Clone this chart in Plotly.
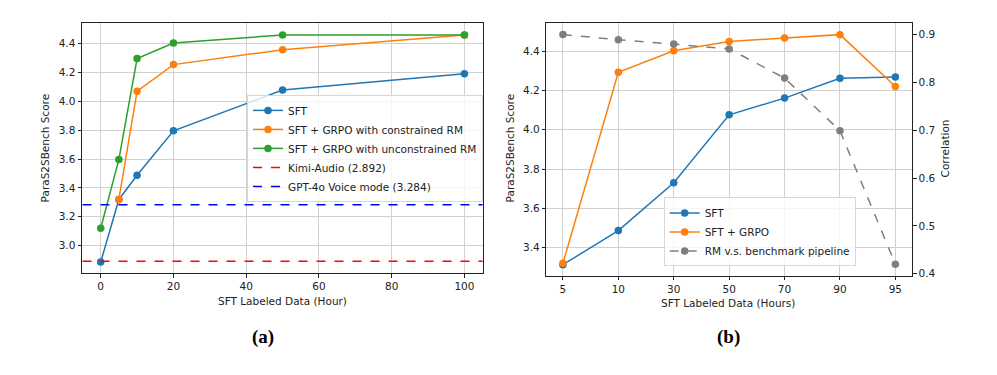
import plotly.graph_objects as go

# ---- Data: panel (a)
hours_a = [0, 5, 10, 20, 50, 100]
sft_a = [2.886, 3.32, 3.487, 3.795, 4.078, 4.19]
hours_con = [5, 10, 20, 50, 100]
grpo_con = [3.32, 4.07, 4.254, 4.357, 4.46]
grpo_uncon = [3.12, 3.597, 4.296, 4.403, 4.46, 4.46]
kimi = 2.892
gpt4o = 3.284

# ---- Data: panel (b)
hours_b = ["5", "10", "30", "50", "70", "90", "95"]
sft_b = [3.313, 3.487, 3.73, 4.076, 4.161, 4.262, 4.268]
grpo_b = [3.32, 4.292, 4.402, 4.449, 4.467, 4.484, 4.22]
corr_b = [0.90, 0.889, 0.880, 0.870, 0.809, 0.699, 0.42]

BLUE = "#1f77b4"
ORANGE = "#ff7f0e"
GREEN = "#2ca02c"
GRAY = "#7f7f7f"
FONT = "DejaVu Sans"

fig = go.Figure()

def line_trace(x, y, color, name, xa, ya, legend, dash="solid"):
    return go.Scatter(
        x=x, y=y, mode="lines+markers", name=name,
        line=dict(color=color, width=1.5, dash=dash),
        marker=dict(color=color, size=7.5),
        xaxis=xa, yaxis=ya, legend=legend,
    )

fig.add_trace(line_trace(hours_a, sft_a, BLUE, "SFT", "x", "y", "legend"))
fig.add_trace(line_trace(hours_con, grpo_con, ORANGE, "SFT + GRPO with constrained RM", "x", "y", "legend"))
fig.add_trace(line_trace(hours_a, grpo_uncon, GREEN, "SFT + GRPO with unconstrained RM", "x", "y", "legend"))
fig.add_trace(go.Scatter(x=[-5, 105], y=[kimi, kimi], mode="lines", name="Kimi-Audio (2.892)",
                         line=dict(color="red", width=1.5, dash="dash"), xaxis="x", yaxis="y", legend="legend"))
fig.add_trace(go.Scatter(x=[-5, 105], y=[gpt4o, gpt4o], mode="lines", name="GPT-4o Voice mode (3.284)",
                         line=dict(color="blue", width=1.5, dash="dash"), xaxis="x", yaxis="y", legend="legend"))

fig.add_trace(line_trace(hours_b, sft_b, BLUE, "SFT", "x2", "y2", "legend2"))
fig.add_trace(line_trace(hours_b, grpo_b, ORANGE, "SFT + GRPO", "x2", "y2", "legend2"))
fig.add_trace(line_trace(hours_b, corr_b, GRAY, "RM v.s. benchmark pipeline", "x2", "y3", "legend2", dash="dash"))

W, H = 997, 375
def fx(p): return p / W
def fy(p): return 1 - p / H

axis_common = dict(
    showline=True, linecolor="#222", linewidth=1, mirror=True,
    ticks="outside", ticklen=3.5, tickcolor="#222",
    showgrid=True, gridcolor="#d0d0d0", gridwidth=0.8, zeroline=False,
    tickfont=dict(family=FONT, size=10.5, color="#222"),
)

legend_common = dict(
    xanchor="left", yanchor="middle",
    bgcolor="rgba(255,255,255,0.8)", bordercolor="#d8d8d8", borderwidth=1,
    font=dict(family=FONT, size=10.5, color="#222"), tracegroupgap=0,
    itemwidth=30,
)

fig.update_layout(
    width=W, height=H,
    margin=dict(l=0, r=0, t=0, b=0),
    paper_bgcolor="white", plot_bgcolor="white",
    font=dict(family=FONT, size=10, color="#222"),
    xaxis=dict(domain=[fx(82), fx(483)], range=[-5.14, 105.1],
               tickvals=[0, 20, 40, 60, 80, 100], anchor="y", **axis_common),
    yaxis=dict(domain=[fy(276), fy(23)], range=[2.81, 4.544],
               tickvals=[3.0, 3.2, 3.4, 3.6, 3.8, 4.0, 4.2, 4.4], tickformat=".1f",
               anchor="x", **axis_common),
    xaxis2=dict(domain=[fx(546.3), fx(912)], range=[-0.3, 6.3], type="category",
                anchor="y2", **axis_common),
    yaxis2=dict(domain=[fy(278.7), fy(23.3)], range=[3.257, 4.543],
                tickvals=[3.4, 3.6, 3.8, 4.0, 4.2, 4.4], tickformat=".1f",
                anchor="x2", **axis_common),
    yaxis3=dict(overlaying="y2", side="right", anchor="x2", range=[0.396, 0.924],
                tickvals=[0.4, 0.5, 0.6, 0.7, 0.8, 0.9], tickformat=".1f",
                showline=True, linecolor="#222", linewidth=1,
                ticks="outside", ticklen=3.5, tickcolor="#222",
                showgrid=False, zeroline=False,
                tickfont=dict(family=FONT, size=10.5, color="#222")),
    legend=dict(x=fx(247), y=fy(150), **legend_common),
    legend2=dict(x=fx(663.7), y=fy(234.5), **legend_common),
    showlegend=True,
)

annotations = [
    dict(text="ParaS2SBench Score", x=fx(45), y=fy(150), textangle=-90),
    dict(text="SFT Labeled Data (Hour)", x=fx(282), y=fy(304)),
    dict(text="ParaS2SBench Score", x=fx(510), y=fy(150), textangle=-90),
    dict(text="SFT Labeled Data (Hours)", x=fx(728), y=fy(306.5)),
    dict(text="Correlation", x=fx(945), y=fy(150), textangle=-90),
]
for a in annotations:
    fig.add_annotation(xref="paper", yref="paper", showarrow=False,
                       xanchor="center", yanchor="middle",
                       font=dict(family=FONT, size=10.5, color="#222"), **a)

for txt, xp in [("(a)", 263), ("(b)", 728)]:
    fig.add_annotation(text="<b>%s</b>" % txt, xref="paper", yref="paper",
                       x=fx(xp), y=fy(341), showarrow=False,
                       xanchor="center", yanchor="middle",
                       font=dict(family="Liberation Serif", size=19, color="black"))

fig.write_html("out.html",
               config={"displayModeBar": False},
               post_script="document.body.style.margin='0';document.body.style.overflow='hidden';")
